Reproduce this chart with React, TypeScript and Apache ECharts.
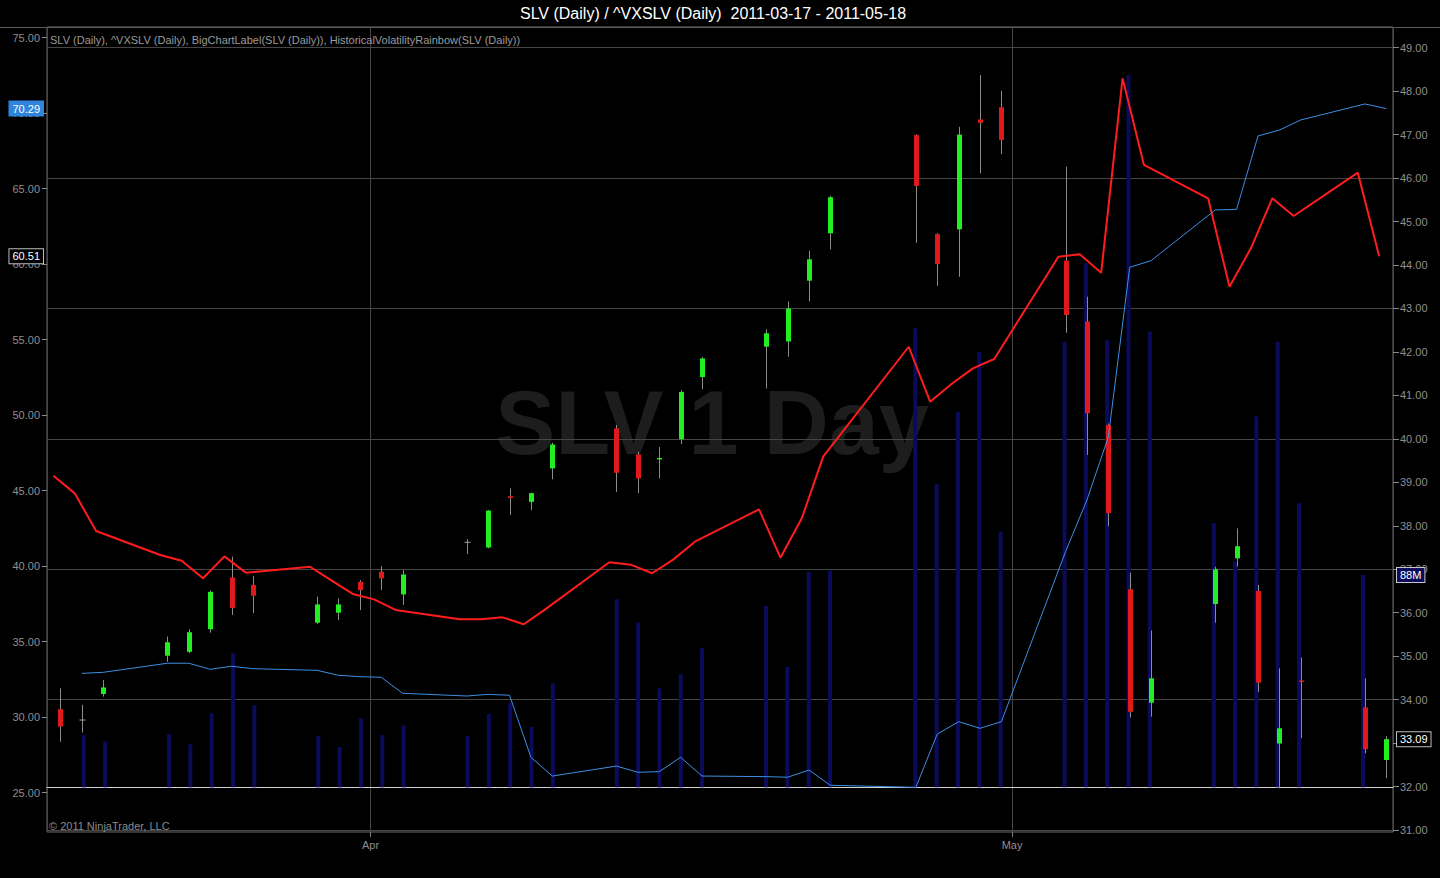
import React, { useEffect, useRef } from "react";
import * as echarts from "echarts";

// ---------- texts ----------
const TITLE = "SLV (Daily) / ^VXSLV (Daily)  2011-03-17 - 2011-05-18";
const INDICATORS =
  "SLV (Daily), ^VXSLV (Daily), BigChartLabel(SLV (Daily)), HistoricalVolatilityRainbow(SLV (Daily))";
const WATERMARK = "SLV 1 Day";
const COPYRIGHT = "\u00A9 2011 NinjaTrader, LLC";
const MONTHS = ["Jan", "Feb", "Mar", "Apr", "May", "Jun", "Jul", "Aug", "Sep", "Oct", "Nov", "Dec"];

// ---------- data (one entry per bar) ----------
const barDates = [
  "2011-03-17", "2011-03-18", "2011-03-19",
  "2011-03-22", "2011-03-23", "2011-03-24", "2011-03-25", "2011-03-26",
  "2011-03-29", "2011-03-30", "2011-03-31", "2011-04-01", "2011-04-02",
  "2011-04-05", "2011-04-06", "2011-04-07", "2011-04-08", "2011-04-09",
  "2011-04-12", "2011-04-13", "2011-04-14", "2011-04-15", "2011-04-16",
  "2011-04-19", "2011-04-20", "2011-04-21", "2011-04-22",
  "2011-04-26", "2011-04-27", "2011-04-28", "2011-04-29", "2011-04-30",
  "2011-05-03", "2011-05-04", "2011-05-05", "2011-05-06", "2011-05-07",
  "2011-05-10", "2011-05-11", "2011-05-12", "2011-05-13", "2011-05-14",
  "2011-05-17", "2011-05-18",
];

const slvOpen = [
  33.78, 33.53, 34.13,
  35.01, 35.10, 35.62, 36.81, 36.64,
  35.77, 36.00, 36.71, 36.94, 36.42,
  37.62, 37.50, 38.68, 38.55, 39.32,
  40.24, 39.64, 39.53, 39.99, 41.42,
  42.12, 42.24, 43.64, 44.73,
  46.99, 44.71, 44.82, 47.35, 47.63,
  44.10, 42.70, 40.32, 36.54, 33.93,
  36.20, 37.25, 36.50, 32.99, 34.44,
  33.82, 32.61,
];
const slvHigh = [
  34.26, 33.88, 34.45,
  35.45, 35.62, 36.51, 37.29, 36.84,
  36.37, 36.33, 36.75, 37.07, 36.98,
  37.69, 38.36, 38.86, 38.76, 39.91,
  40.32, 39.70, 39.81, 41.12, 41.88,
  42.52, 43.16, 44.33, 45.59,
  47.01, 44.73, 47.18, 48.37, 48.01,
  46.26, 43.27, 40.35, 36.92, 35.59,
  37.06, 37.94, 36.64, 34.72, 34.97,
  34.49, 33.16,
];
const slvLow = [
  33.03, 33.24, 34.07,
  34.87, 35.07, 35.54, 35.95, 35.99,
  35.74, 35.83, 36.06, 36.52, 36.18,
  37.35, 37.48, 38.25, 38.36, 39.07,
  38.78, 38.75, 39.09, 39.88, 41.14,
  41.16, 41.89, 43.16, 44.36,
  44.51, 43.52, 43.73, 46.11, 46.55,
  42.44, 39.63, 37.99, 33.59, 33.61,
  35.77, 37.06, 34.18, 31.96, 33.11,
  32.76, 32.19,
];
const slvClose = [
  33.38, 33.53, 34.28,
  35.32, 35.55, 36.48, 36.11, 36.39,
  36.19, 36.19, 36.52, 36.79, 36.88,
  37.62, 38.35, 38.64, 38.75, 39.87,
  39.22, 39.09, 39.56, 41.08, 41.85,
  42.43, 43.00, 44.13, 45.56,
  45.82, 44.02, 47.00, 47.27, 46.88,
  42.85, 40.59, 38.29, 33.72, 34.49,
  37.00, 37.53, 34.39, 33.34, 34.42,
  32.86, 33.09,
];

// ^VXSLV close
const vxslv = [
  45.98, 44.81, 42.32,
  40.73, 40.35, 39.19, 40.64, 39.56,
  39.95, 39.05, 38.15, 37.79, 37.09,
  36.47, 36.47, 36.60, 36.14, 37.13,
  40.25, 40.09, 39.52, 40.44, 41.61,
  43.75, 40.55, 43.16, 47.24,
  54.52, 50.88, 52.05, 53.09, 53.71,
  60.48, 60.64, 59.42, 72.30, 66.56,
  64.35, 58.50, 61.04, 64.35, 63.18,
  66.05, 60.51,
];

// Historical volatility of SLV
const histVol = [
  null, 32.89, 32.96,
  33.56, 33.56, 33.16, 33.36, 33.20,
  33.09, 32.76, 32.67, 32.63, 31.57,
  31.39, 31.50, 31.44, 27.33, 26.09,
  26.75, 26.34, 26.38, 27.33, 26.09,
  26.05, 26.01, 26.49, 25.48,
  25.34, 28.87, 29.69, 29.25, 29.69,
  40.95, 44.37, 48.54, 59.78, 60.22,
  63.58, 63.62, 68.48, 68.87, 69.54,
  70.60, 70.29,
];

// SLV volume, millions of shares
const volumeM = [
  null, 21.7, 19.0,
  22.1, 17.9, 30.8, 55.8, 34.2,
  21.5, 16.7, 28.7, 21.7, 25.8,
  21.4, 30.5, 35.2, 25.2, 43.3,
  78.3, 68.6, 41.2, 47.1, 57.9,
  75.5, 50.2, 89.8, 90.2,
  191.2, 126.3, 156.4, 181.4, 106.5,
  185.6, 218.2, 186.2, 296.6, 189.8,
  110.0, 94.0, 154.4, 185.6, 118.3,
  88.4, null,
];

// ---------- time stamps ----------
const HOUR = 3600000;
const DAY = 24 * HOUR;
const SLV_STAMP_HOUR = 12;
const VIX_STAMP_HOUR = 4;
function dayUTC(s: string): number {
  const [y, m, d] = s.split("-").map(Number);
  return Date.UTC(y, m - 1, d);
}
const slvTimes = barDates.map((d) => dayUTC(d) + SLV_STAMP_HOUR * HOUR);
const vixTimes = barDates.map((d) => dayUTC(d) + VIX_STAMP_HOUR * HOUR);

const FONT = "'Liberation Sans', Arial, Helvetica, sans-serif";

export default function App() {
  const ref = useRef<HTMLDivElement>(null);

  useEffect(() => {
    if (!ref.current) return;
    const chart = echarts.init(ref.current, undefined, { renderer: "svg" });

    const xMin = slvTimes[0] - 0.631 * DAY;
    const xMax = slvTimes[slvTimes.length - 1] + 0.313 * DAY;

    const candleData = slvTimes.map((t, i) => [t, slvOpen[i], slvHigh[i], slvLow[i], slvClose[i]]);
    const vixData = vixTimes.map((t, i) => [t, vxslv[i]]);
    const hvData = slvTimes
      .map((t, i) => [t, histVol[i]])
      .filter((p) => p[1] != null);
    const volData = slvTimes
      .map((t, i) => [t, volumeM[i]])
      .filter((p) => p[1] != null);

    const lastClose = slvClose[slvClose.length - 1];
    const lastVix = vxslv[vxslv.length - 1];
    const lastHv = hvData[hvData.length - 1][1] as number;
    const lastVol = volData[volData.length - 1][1] as number;

    const gridBox = { left: 47, right: 47 };
    const hiddenX = (gridIndex: number) => ({
      type: "time",
      gridIndex,
      min: xMin,
      max: xMax,
      show: false,
    });

    const valueLabel = (
      position: string,
      text: (v: number) => string,
      bg: string,
      border: string
    ) => ({
      show: true,
      position,
      distance: 4,
      formatter: (p: any) => text(p.value),
      color: "#ffffff",
      fontSize: 11,
      fontFamily: FONT,
      backgroundColor: bg,
      borderColor: border,
      borderWidth: 1,
      padding: [2, 3, 1, 3],
    });

    const option: any = {
      animation: false,
      backgroundColor: "#000000",
      useUTC: true,
      textStyle: { fontFamily: FONT },
      grid: [
        { ...gridBox, top: 27, height: 805, show: true, borderColor: "#6c6c6c", borderWidth: 1, backgroundColor: "transparent" },
        { ...gridBox, top: 37.5, height: 755 },
        { ...gridBox, top: 47.7, height: 782.3 },
        { ...gridBox, top: 18.9, height: 768.4 },
      ],
      xAxis: [
        {
          type: "time",
          gridIndex: 0,
          min: xMin,
          max: xMax,
          splitNumber: 2,
          minInterval: 28 * DAY,
          axisLine: { show: false },
          axisTick: { show: true, length: 5, lineStyle: { color: "#7a7a7a" } },
          axisLabel: {
            color: "#8f8f8f",
            fontSize: 11,
            fontFamily: FONT,
            margin: 7,
            showMinLabel: false,
            showMaxLabel: false,
            formatter: (v: number) => {
              const d = new Date(v);
              return d.getUTCDate() === 1 && d.getUTCHours() === 0 ? MONTHS[d.getUTCMonth()] : "";
            },
          },
          splitLine: { show: true, lineStyle: { color: "#464646", width: 1 } },
        },
        hiddenX(1),
        hiddenX(2),
        {
          type: "time",
          gridIndex: 3,
          min: xMin,
          max: xMax,
          axisLine: { show: true, onZero: false, lineStyle: { color: "#d2d2d2", width: 1 } },
          axisTick: { show: false },
          axisLabel: { show: false },
          splitLine: { show: false },
        },
      ],
      yAxis: [
        { type: "value", gridIndex: 0, min: 0, max: 1, show: false },
        {
          type: "value",
          gridIndex: 1,
          position: "left",
          min: 25,
          max: 75,
          interval: 5,
          axisLine: { show: false },
          axisTick: { show: true, length: 5, lineStyle: { color: "#8a8a8a" } },
          axisLabel: { color: "#8f8f8f", fontSize: 11, fontFamily: FONT, margin: 7, formatter: (v: number) => v.toFixed(2) },
          splitLine: { show: false },
        },
        {
          type: "value",
          gridIndex: 2,
          position: "right",
          min: 31,
          max: 49,
          interval: 1,
          axisLine: { show: false },
          axisTick: { show: true, length: 6, lineStyle: { color: "#8a8a8a" } },
          axisLabel: { color: "#8f8f8f", fontSize: 11, fontFamily: FONT, margin: 7, formatter: (v: number) => v.toFixed(2) },
          splitLine: { show: false },
        },
        {
          type: "value",
          gridIndex: 2,
          position: "right",
          min: 31,
          max: 49,
          interval: 3,
          axisLine: { show: false },
          axisTick: { show: false },
          axisLabel: { show: false },
          splitLine: { show: true, lineStyle: { color: "#464646", width: 1 } },
        },
        { type: "value", gridIndex: 3, min: 0, max: 320, show: false },
      ],
      series: [
        {
          name: "Volume",
          type: "bar",
          xAxisIndex: 3,
          yAxisIndex: 4,
          data: volData,
          barWidth: 4,
          itemStyle: { color: "#0b0b5c" },
          z: 1,
          silent: true,
          markLine: {
            silent: true,
            symbol: "none",
            z: 10,
            lineStyle: { width: 0, color: "transparent" },
            label: valueLabel("end", (v) => `${Math.round(v)}M`, "#0b0b5c", "#c8c8c8"),
            data: [{ yAxis: lastVol }],
          },
        },
        {
          name: "SLV (Daily)",
          type: "custom",
          xAxisIndex: 2,
          yAxisIndex: 2,
          data: candleData,
          encode: { x: 0, y: [1, 2, 3, 4] },
          z: 3,
          silent: true,
          renderItem: (params: any, api: any) => {
            const t = api.value(0);
            const o = api.value(1);
            const h = api.value(2);
            const l = api.value(3);
            const c = api.value(4);
            const pO = api.coord([t, o]);
            const pC = api.coord([t, c]);
            const pH = api.coord([t, h]);
            const pL = api.coord([t, l]);
            const x = Math.round(pO[0]) + 0.5;
            const children: any[] = [
              {
                type: "line",
                shape: { x1: x, y1: pH[1], x2: x, y2: pL[1] },
                style: { stroke: "#8c8c8c", lineWidth: 1 },
              },
            ];
            if (o === c) {
              children.push({
                type: "line",
                shape: { x1: x - 3, y1: pO[1], x2: x + 3, y2: pO[1] },
                style: { stroke: "#a0a0a0", lineWidth: 1 },
              });
            } else {
              const top = Math.min(pO[1], pC[1]);
              const hgt = Math.max(Math.abs(pO[1] - pC[1]), 1.5);
              children.push({
                type: "rect",
                shape: { x: x - 2.5, y: top, width: 5, height: hgt },
                style: { fill: c > o ? "#22ee22" : "#e01a1a" },
              });
            }
            return { type: "group", children };
          },
          markLine: {
            silent: true,
            symbol: "none",
            z: 10,
            lineStyle: { width: 0, color: "transparent" },
            label: valueLabel("end", (v) => v.toFixed(2), "#000000", "#bdbdbd"),
            data: [{ yAxis: lastClose }],
          },
        },
        {
          name: "^VXSLV (Daily)",
          type: "line",
          xAxisIndex: 1,
          yAxisIndex: 1,
          data: vixData,
          symbol: "none",
          lineStyle: { color: "#ff1c1c", width: 2 },
          itemStyle: { color: "#ff1c1c" },
          z: 4,
          silent: true,
          markLine: {
            silent: true,
            symbol: "none",
            z: 10,
            lineStyle: { width: 0, color: "transparent" },
            label: valueLabel("start", (v) => v.toFixed(2), "#000000", "#bdbdbd"),
            data: [{ yAxis: lastVix }],
          },
        },
        {
          name: "HistoricalVolatilityRainbow",
          type: "line",
          xAxisIndex: 1,
          yAxisIndex: 1,
          data: hvData,
          symbol: "none",
          lineStyle: { color: "#3d8fe3", width: 1 },
          itemStyle: { color: "#3d8fe3" },
          z: 4,
          silent: true,
          markLine: {
            silent: true,
            symbol: "none",
            z: 10,
            lineStyle: { width: 0, color: "transparent" },
            label: valueLabel("start", (v) => v.toFixed(2), "#2f84dc", "#2f84dc"),
            data: [{ yAxis: lastHv }],
          },
        },
      ],
      graphic: [
        {
          type: "line",
          z: 0,
          silent: true,
          shape: { x1: 0, y1: 27.5, x2: 1440, y2: 27.5 },
          style: { stroke: "#5c5c5c", lineWidth: 1 },
        },
        {
          type: "text",
          z: 0,
          silent: true,
          x: 712,
          y: 423,
          style: {
            text: WATERMARK,
            fill: "#1d1d1d",
            font: `bold 90px ${FONT}`,
            align: "center",
            verticalAlign: "middle",
          },
        },
        {
          type: "text",
          z: 10,
          silent: true,
          x: 713,
          y: 13,
          style: {
            text: TITLE,
            fill: "#ffffff",
            font: `16px ${FONT}`,
            align: "center",
            verticalAlign: "middle",
          },
        },
        {
          type: "text",
          z: 10,
          silent: true,
          x: 50,
          y: 40,
          style: {
            text: INDICATORS,
            fill: "#9a9a9a",
            font: `11px ${FONT}`,
            align: "left",
            verticalAlign: "middle",
          },
        },
        {
          type: "text",
          z: 10,
          silent: true,
          x: 49,
          y: 826,
          style: {
            text: COPYRIGHT,
            fill: "#8a8a8a",
            font: `11px ${FONT}`,
            align: "left",
            verticalAlign: "middle",
          },
        },
      ],
    };

    chart.setOption(option);
    return () => chart.dispose();
  }, []);

  return (
    <div
      ref={ref}
      style={{ position: "fixed", left: 0, top: 0, width: 1440, height: 878, background: "#000" }}
    />
  );
}
